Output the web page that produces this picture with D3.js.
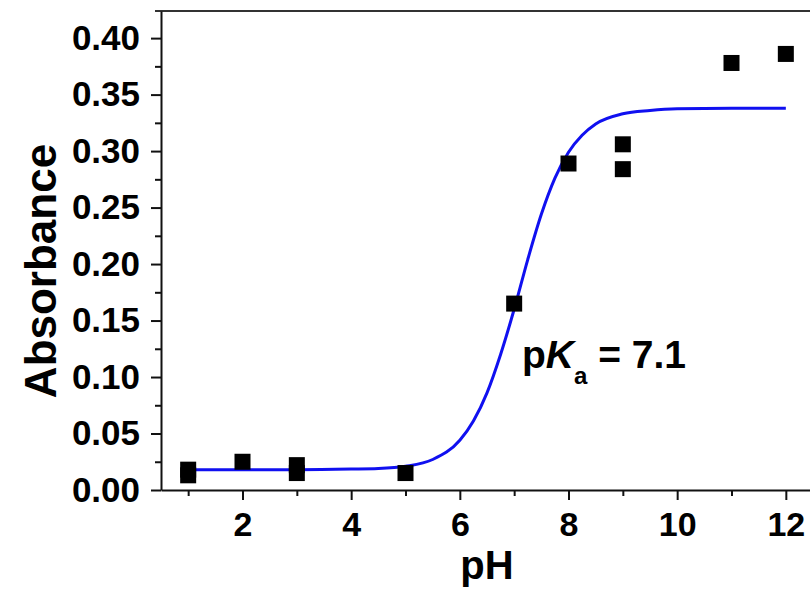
<!DOCTYPE html>
<html>
<head>
<meta charset="utf-8">
<script src="https://cdn.jsdelivr.net/npm/d3@7"></script>
<style>
    body { margin: 0; background: #fff; }
    text { font-family: "Liberation Sans", Arial, sans-serif; font-weight: bold; fill: #000; }
</style>
</head>
<body>
<div id="chart"></div>
<script>
// Measured points (pH, absorbance)
let phPoints = [1, 1, 2, 3, 3, 5, 7, 8, 9, 9, 11, 12];
let absPoints = [0.018, 0.013, 0.025, 0.022, 0.015, 0.015, 0.165, 0.289, 0.306, 0.284, 0.378, 0.386];

// Fitted sigmoid
let fitPH = [1, 2, 3, 4, 4.5, 5, 5.5, 6, 6.25, 6.5, 6.75, 7, 7.25, 7.5, 7.75, 8, 8.25, 8.5, 9, 9.5, 10, 11, 12];
let fitAbs = [0.018, 0.018, 0.018, 0.0185, 0.019, 0.021, 0.027, 0.044, 0.061, 0.086, 0.12, 0.16, 0.204, 0.244, 0.276, 0.299, 0.314, 0.324, 0.333, 0.336, 0.3375, 0.338, 0.338];

// Tick labels
let xTicks = [2, 4, 6, 8, 10, 12];
let xMinor = [1, 3, 5, 7, 9, 11];
let yTicks = [0, 0.05, 0.10, 0.15, 0.20, 0.25, 0.30, 0.35, 0.40];
let yMinor = [0.025, 0.075, 0.125, 0.175, 0.225, 0.275, 0.325, 0.375];

let svgWidth = 810;
let svgHeight = 593;

let margin = { top: 11, right: -3, bottom: 103, left: 161 };
let width = svgWidth - margin.left - margin.right;
let height = svgHeight - margin.top - margin.bottom;

let svg = d3.select('#chart')
    .append('svg')
    .attr('width', svgWidth)
    .attr('height', svgHeight);

let chartGroup = svg.append('g')
    .attr('transform', `translate(${margin.left}, ${margin.top})`);

let x = d3.scaleLinear().domain([0.5, 12.5]).range([0, width]);
let y = d3.scaleLinear().domain([0, 0.424]).range([height, 0]);

// top frame line
chartGroup.append('line')
    .attr('x1', -6).attr('x2', width)
    .attr('y1', 0).attr('y2', 0)
    .attr('stroke', '#333')
    .attr('stroke-width', 2);

// minor ticks
chartGroup.append('g')
    .attr('transform', `translate(0,${height})`)
    .call(d3.axisBottom(x).tickValues(xMinor).tickSize(6).tickFormat(''))
    .call(g => g.select('.domain').remove())
    .selectAll('line').attr('stroke-width', 2);

chartGroup.append('g')
    .call(d3.axisLeft(y).tickValues(yMinor).tickSize(6).tickFormat(''))
    .call(g => g.select('.domain').remove())
    .selectAll('line').attr('stroke-width', 2);

// major axes
let xAxis = chartGroup.append('g')
    .attr('transform', `translate(0,${height})`)
    .call(d3.axisBottom(x).tickValues(xTicks).tickSize(10).tickSizeOuter(0).tickPadding(12));
xAxis.selectAll('text').style('font-size', '34px');

let yAxis = chartGroup.append('g')
    .call(d3.axisLeft(y).tickValues(yTicks).tickSize(10).tickSizeOuter(0).tickPadding(11)
        .tickFormat(d3.format('.2f')));
yAxis.selectAll('text').style('font-size', '35px');

chartGroup.selectAll('.domain, .tick line').attr('stroke-width', 2).attr('stroke', '#111');

// fitted curve
let line = d3.line()
    .x((d, i) => x(fitPH[i]))
    .y(d => y(d))
    .curve(d3.curveMonotoneX);

chartGroup.append('path')
    .datum(fitAbs)
    .attr('d', line)
    .attr('fill', 'none')
    .attr('stroke', '#1010f0')
    .attr('stroke-width', 3);

// data squares
let size = 16;
chartGroup.selectAll('rect.pt')
    .data(absPoints)
    .enter()
    .append('rect')
    .attr('class', 'pt')
    .attr('x', (d, i) => x(phPoints[i]) - size / 2)
    .attr('y', d => y(d) - size / 2)
    .attr('width', size)
    .attr('height', size)
    .attr('fill', '#000');

// axis titles
svg.append('text')
    .attr('x', 487)
    .attr('y', 579)
    .attr('text-anchor', 'middle')
    .style('font-size', '40px')
    .text('pH');

svg.append('text')
    .attr('transform', 'translate(56, 271) rotate(-90)')
    .attr('text-anchor', 'middle')
    .style('font-size', '44px')
    .text('Absorbance');

// pKa annotation
let pka = svg.append('text')
    .attr('x', 522)
    .attr('y', 368)
    .style('font-size', '39px');
pka.append('tspan').text('p');
pka.append('tspan').style('font-style', 'italic').text('K');
pka.append('tspan').attr('dy', 16).style('font-size', '24px').text('a');
pka.append('tspan').attr('dy', -16).text(' = 7.1');
</script>
</body>
</html>
